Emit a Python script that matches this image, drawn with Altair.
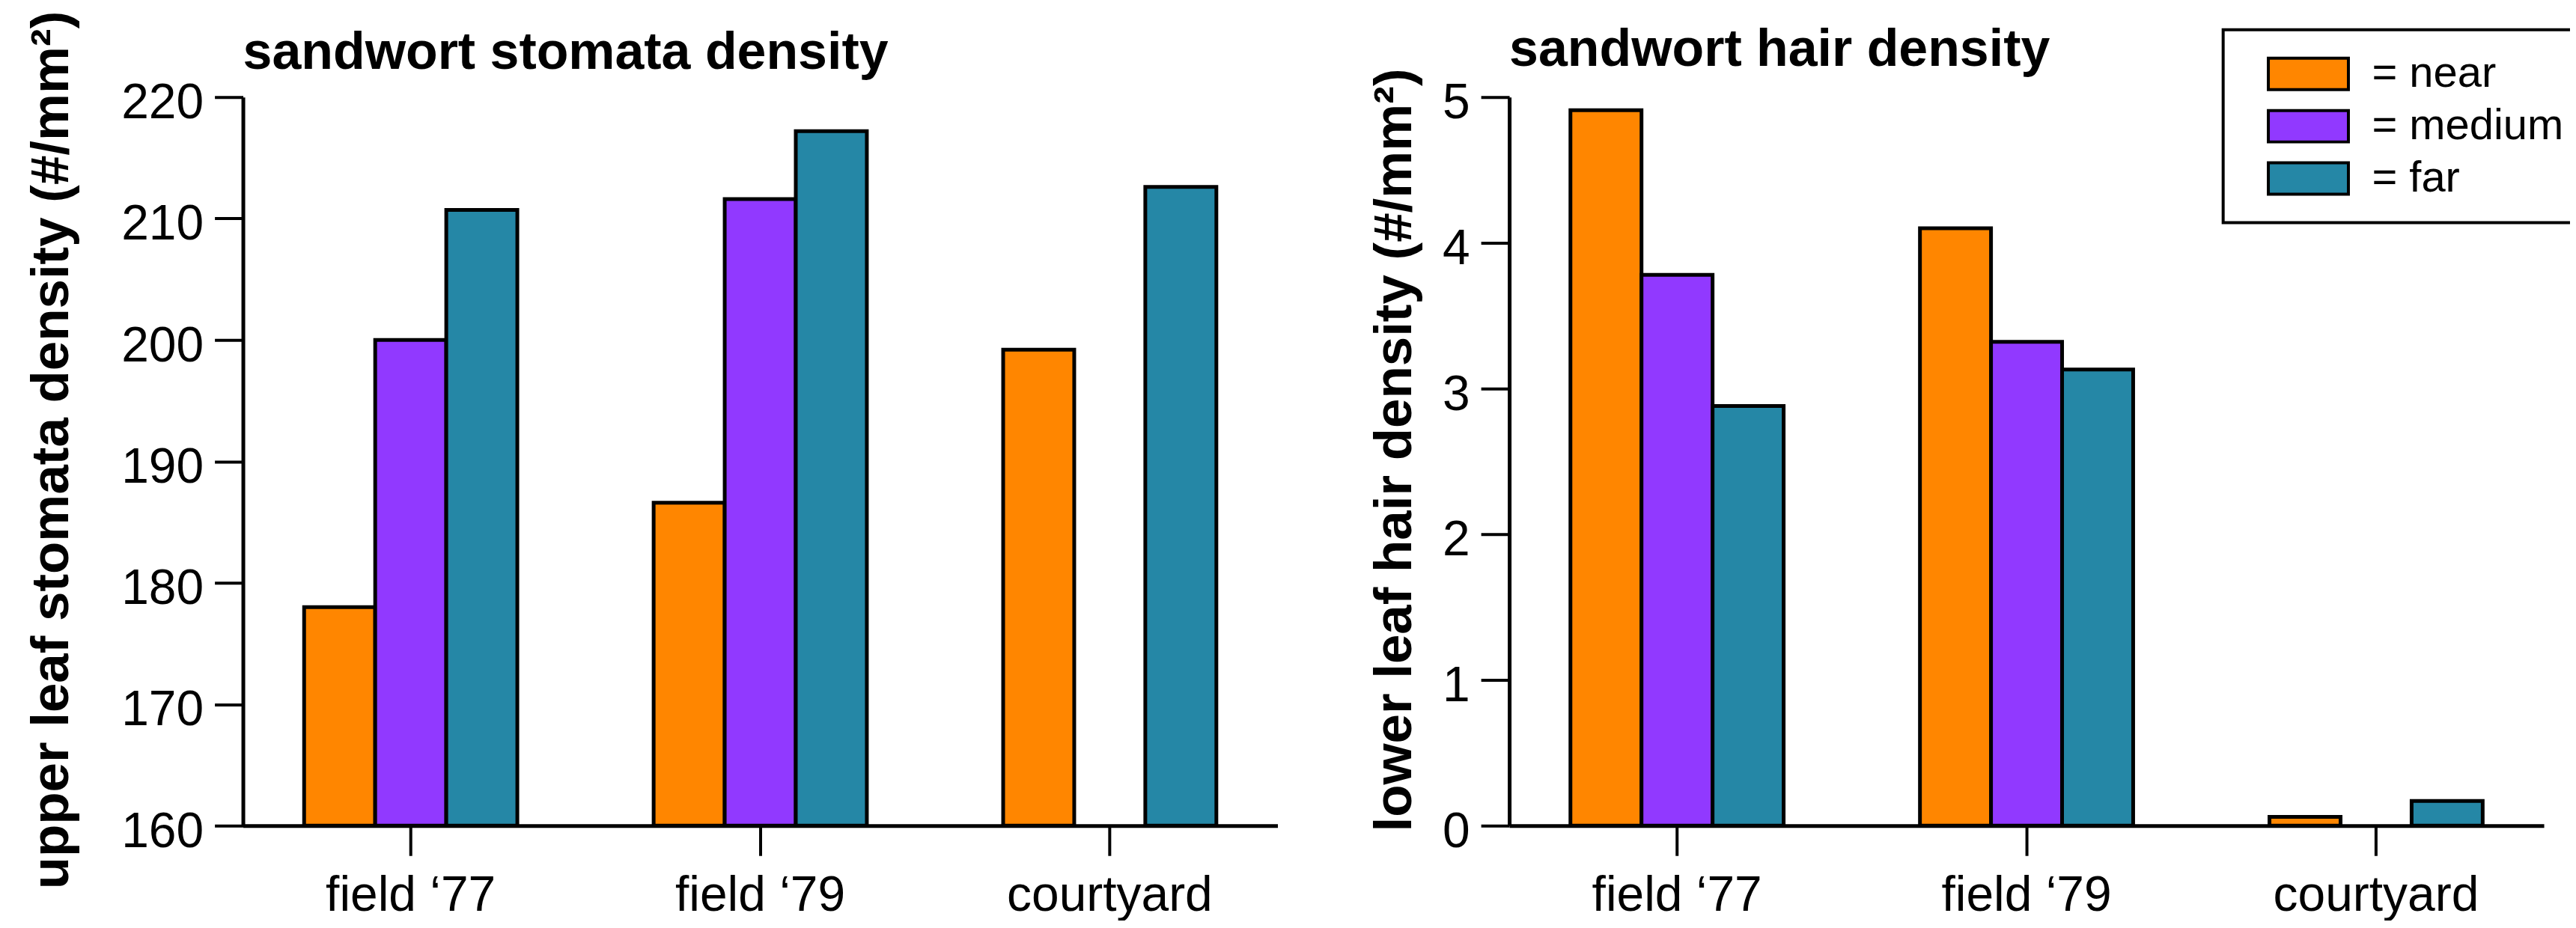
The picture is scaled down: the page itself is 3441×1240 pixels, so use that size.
import altair as alt
import pandas as pd

# ---------------- data ----------------
sites = ["field \u201877", "field \u201879", "courtyard"]
distances = ["near", "medium", "far"]
colors = ["#ff8600", "#9139ff", "#2587a6"]

stomata_near = [178.0, 186.6, 199.2]
stomata_medium = [200.0, 211.6, None]
stomata_far = [210.7, 217.2, 212.6]

hair_near = [4.91, 4.10, 0.06]
hair_medium = [3.78, 3.32, None]
hair_far = [2.88, 3.13, 0.17]

stomata_ticks = [160, 170, 180, 190, 200, 210, 220]
hair_ticks = [0, 1, 2, 3, 4, 5]


def table(near, medium, far):
    rows = []
    for i, s in enumerate(sites):
        for d, vals in zip(distances, [near, medium, far]):
            if vals[i] is not None:
                rows.append({"site": s, "distance": d, "value": vals[i]})
    return pd.DataFrame(rows)


stomata_df = table(stomata_near, stomata_medium, stomata_far)
hair_df = table(hair_near, hair_medium, hair_far)

FONT = "Liberation Sans"
W, H = 1384, 975


def panel(df, title, ytitle, domain, ticks, title_x, legend, base, title_offset):
    x = alt.X(
        "site:N", sort=sites, title=None,
        scale=alt.Scale(paddingInner=0.39, paddingOuter=0.175),
        axis=alt.Axis(labelAngle=0, labelFontSize=66, tickSize=40, labelPadding=21,
                      labelLimit=800, domainWidth=5, tickWidth=4, labelFont=FONT,
                      labelColor="black"),
    )
    y = alt.Y(
        "value:Q",
        scale=alt.Scale(domain=domain, zero=False, nice=False),
        axis=alt.Axis(values=ticks, title=ytitle, titleX=title_x, titleY=472,
                      titleAngle=270, titleBaseline="alphabetic", titleAlign="center",
                      titleFontSize=71, titleFontWeight="bold", titleFont=FONT, titleColor="black",
                      titleLimit=2000,
                      labelFontSize=66, labelOffset=8, labelPadding=15, tickSize=38,
                      domainWidth=5, tickWidth=4, labelFont=FONT, labelColor="black"),
    )
    enc = dict(
        x=x, y=y,
        y2=alt.datum(base),
        xOffset=alt.XOffset("distance:N", sort=distances,
                            scale=alt.Scale(domain=distances, paddingInner=0, paddingOuter=0)),
        color=alt.Color("distance:N", sort=distances,
                        scale=alt.Scale(domain=distances, range=colors), legend=legend),
    )
    return alt.Chart(df).mark_bar(stroke="black", strokeWidth=5, clip=True).encode(**enc).properties(
        width=W, height=H,
        title=alt.TitleParams(title, anchor="start", frame="group", font=FONT, fontSize=70,
                              fontWeight="bold", color="black", baseline="alphabetic",
                              offset=title_offset),
    )


legend = alt.Legend(
    orient="none", legendX=955, legendY=-90, title=None,
    symbolType="M-2.55,-1H2.55V1H-2.55Z", symbolSize=1764,
    symbolStrokeColor="black", symbolStrokeWidth=4, symbolOpacity=1,
    symbolOffset=55, labelOffset=56, labelLimit=600,
    labelExpr="'= ' + datum.label", labelFontSize=58, labelFont=FONT, labelColor="black",
    strokeColor="black", fillColor="white", padding=30, rowPadding=12,
)

left = panel(stomata_df, "sandwort stomata density", "upper leaf stomata density (#/mm\u00b2)",
             [160, 220], stomata_ticks, -234, None, 160, -148)
right = panel(hair_df, "sandwort hair density", "lower leaf hair density (#/mm\u00b2)",
              [0, 5], hair_ticks, -132, legend, 0, -120)

chart = alt.hconcat(left, right, spacing=120).resolve_scale(y="independent").resolve_legend(
    color="independent"
).properties(
    padding={"left": 25, "top": 5, "right": -24, "bottom": 0},
).configure_view(stroke=None).configure_axis(
    grid=False, domainColor="black", tickColor="black"
).configure_legend(strokeWidth=4)

chart.save("out.html", embed_options={"renderer": "svg", "actions": False})
